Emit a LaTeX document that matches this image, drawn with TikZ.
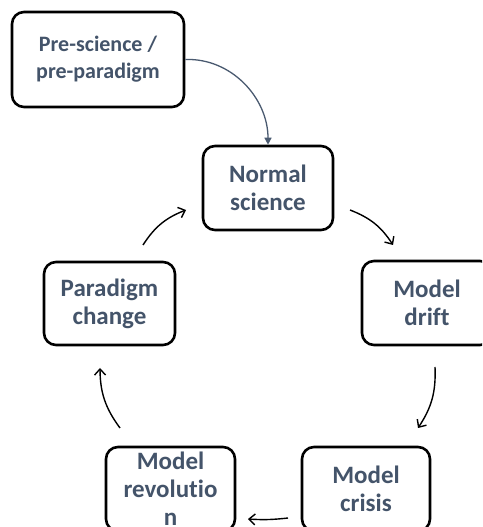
\documentclass[tikz,border=0pt]{standalone}
\usepackage{fontspec}
\setmainfont[Ligatures=NoCommon]{Carlito}
\usetikzlibrary{arrows.meta}
\definecolor{txt}{HTML}{44546A}
\definecolor{slate}{HTML}{4A5A70}
\begin{document}
\begin{tikzpicture}[x=1pt,y=1pt,
  box/.style={draw=black, line width=2.6pt, rounded corners=12pt, fill=white,
    inner sep=0pt, align=center, text=txt, font=\bfseries\fontsize{25}{28}\selectfont},
  cyc/.style={draw=black, line width=1.4pt, -{Straight Barb[length=6pt,width=11pt]}, bend left=18},
]
\useasboundingbox (0,0) rectangle (482,527);
\clip (0,0) rectangle (482,527);
\node[box, minimum width=172pt, minimum height=95pt, font=\bfseries\fontsize{22}{27}\selectfont] (pre) at (98,467.5) {Pre-science /\\pre-paradigm};
\node[box, minimum width=130pt, minimum height=84pt] (normal) at (268,339) {Normal\\science};
\node[box, minimum width=130pt, minimum height=84pt] (drift) at (427,224) {Model\\drift};
\node[box, minimum width=131pt, minimum height=83pt] (paradigm) at (109.5,223.5) {Paradigm\\change};
\node[box, minimum width=129pt, minimum height=84pt] (revolution) at (170.5,38) {Model\\revolutio\\n};
\node[box, minimum width=128pt, minimum height=84pt] (crisis) at (366,38) {Model\\crisis};
% free ends of the cycle arrows
\coordinate (a1s) at (350,317); \coordinate (a1e) at (393,282);
\coordinate (a2s) at (435,160); \coordinate (a2e) at (418,99);
\coordinate (a3s) at (288,9);   \coordinate (a3e) at (248,8);
\coordinate (a4s) at (120,99);  \coordinate (a4e) at (100,159);
\coordinate (a5s) at (143,282); \coordinate (a5e) at (186,317);
\draw[cyc] (a1s) to (a1e);
\draw[cyc] (a2s) to (a2e);
\draw[cyc, bend left=5] (a3s) to (a3e);
\draw[cyc] (a4s) to (a4e);
\draw[cyc] (a5s) to (a5e);
\draw[slate, line width=1.3pt, -{Triangle[length=7pt,width=7pt]}] (pre.east) to[out=2,in=90] (normal.north);
\end{tikzpicture}
\end{document}
